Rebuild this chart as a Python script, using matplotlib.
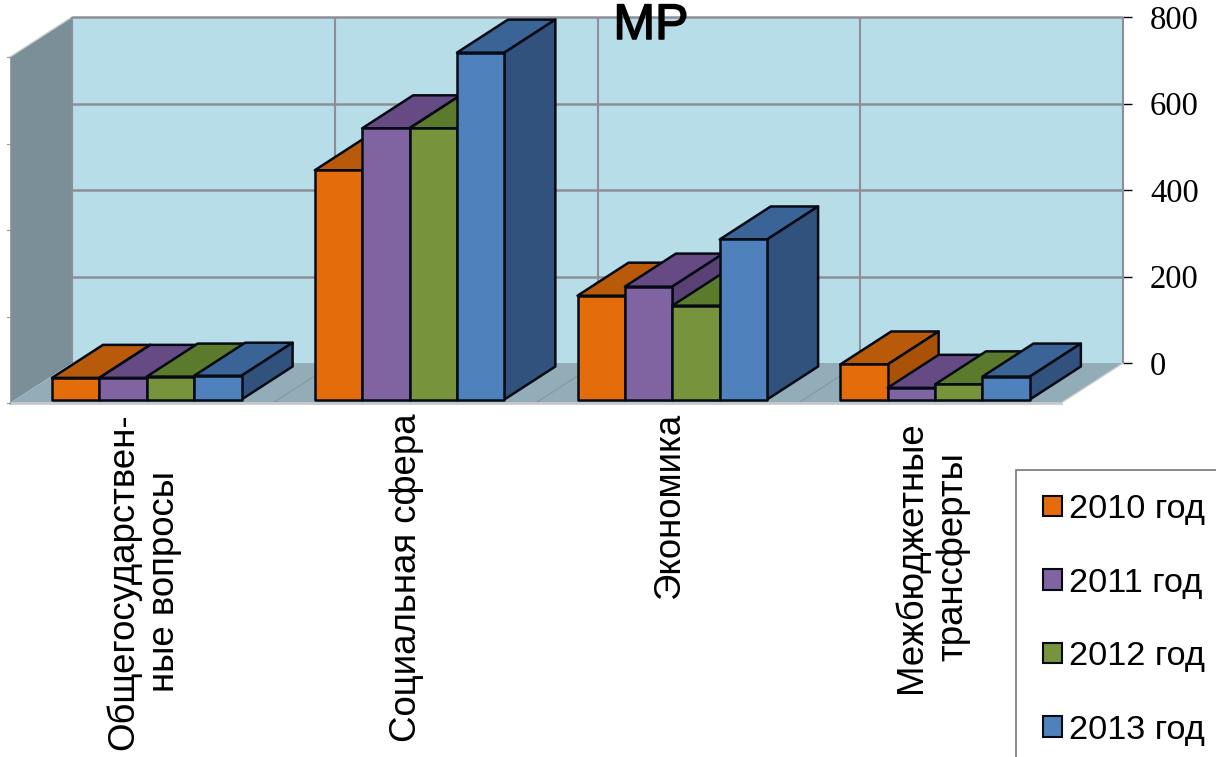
import matplotlib
matplotlib.use("Agg")
import matplotlib.pyplot as plt
import matplotlib.patheffects as pe
import matplotlib.transforms as mtrans
from matplotlib.patches import Polygon, Patch, Rectangle

categories = ["Общегосударствен-\nные вопросы", "Социальная сфера", "Экономика", "Межбюджетные\nтрансферты"]
series_names = ["2010 год", "2011 год", "2012 год", "2013 год"]
v2010 = [50, 530, 240, 81]
v2011 = [50, 627, 261, 27]
v2012 = [53, 627, 217, 35]
v2013 = [55, 802, 370, 53]
yticks = [0, 200, 400, 600, 800]
title = "МР"

series = [v2010, v2011, v2012, v2013]
front_col = ["#e46c0a", "#8064a2", "#77933c", "#4f81bd"]
top_col = ["#b95a0b", "#654a84", "#5c7a2c", "#3b6496"]
side_col = ["#a95207", "#5a4175", "#4f6b24", "#31527c"]

W, H = 1216, 757
fig = plt.figure(figsize=(W / 100, H / 100), dpi=100, facecolor="white")
ax = fig.add_axes([72 / W, 1 - 363 / H, (1123 - 72) / W, (363 - 17) / H])
ax.set_xlim(0, 4)
ax.set_ylim(0, 800)
ax.set_facecolor("#b7dde8")
ax.set_axisbelow(True)
for s in ax.spines.values():
    s.set_visible(False)

GRID = "#8e8f96"
px_x = 4 / (1123 - 72)   # data units per pixel, x
px_y = 800 / (363 - 17)  # data units per pixel, y

# floor and left wall (oblique projection)
fx, fy = -62 * px_x, -40 * px_y
ax.add_patch(Polygon([(fx, 800 + fy), (0, 800), (0, 0), (fx, fy)], fc="#7a8f97", ec="none", clip_on=False, zorder=1))
ax.add_patch(Polygon([(fx, fy), (0, 0), (4, 0), (4 + fx, fy)], fc="#93adb8", ec="none", clip_on=False, zorder=1))
for i in range(1, 4):
    ax.plot([i + fx, i], [fy, 0], color="#7f98a3", lw=0.8, clip_on=False, zorder=1.5)
ax.plot([fx, 4 + fx], [fy, fy], color="#c6c9cc", lw=2, clip_on=False, zorder=1.5)
ax.plot([4 + fx, 4], [fy, 0], color="#c6c9cc", lw=1, clip_on=False, zorder=1.5)
ax.plot([fx, 0], [800 + fy, 800], color="#c9cdd0", lw=1, clip_on=False, zorder=1.5)
ax.plot([fx, fx], [fy, 800 + fy], color="#9aa5aa", lw=0.8, clip_on=False, zorder=1.5)
for t in yticks:
    ax.plot([fx - 3 * px_x, fx], [t + fy, t + fy], color="#9a9a9a", lw=0.8, clip_on=False, zorder=1.5)

# walls grid
for t in yticks[1:]:
    ax.plot([0, 4], [t, t], color=GRID, lw=1.8, clip_on=False, zorder=2, solid_capstyle="butt")
for i in range(0, 5):
    ax.plot([i, i], [0, 800], color=GRID, lw=1.5, clip_on=False, zorder=2, solid_capstyle="butt")

# bars
base = -36.5 * px_y
bw = 47.4 * px_x
dx, dy = 51 * px_x, 33 * px_y
start = fx + 42 * px_x
z = 3
for c in range(len(categories)):
    for s, vals in enumerate(series):
        x0 = c + start + s * bw
        x1 = x0 + bw
        top = base + vals[c]
        kw = dict(ec="#050a14", lw=1.8, joinstyle="round", clip_on=False, zorder=z)
        ax.add_patch(Polygon([(x0, top), (x1, top), (x1 + dx, top + dy), (x0 + dx, top + dy)], fc=top_col[s], **kw))
        ax.add_patch(Polygon([(x1, base), (x1 + dx, base + dy), (x1 + dx, top + dy), (x1, top)], fc=side_col[s], **kw))
        ax.add_patch(Polygon([(x0, base), (x1, base), (x1, top), (x0, top)], fc=front_col[s], **kw))
        z += 0.01

# axes ticks
ax.yaxis.tick_right()
ax.set_yticks(yticks)
ax.set_yticklabels([str(t) for t in yticks], family="Liberation Serif", fontsize=23.5)
ax.tick_params(axis="y", length=6.5, width=1, color="black", pad=13, zorder=2)
ax.set_xticks([c + start + 2 * bw - 3 * px_x for c in range(4)])
ax.set_xticklabels(categories, rotation=90, family="Liberation Sans", fontsize=26.4,
                   ha="center", va="top", multialignment="center", linespacing=1.24)
ax.tick_params(axis="x", length=0, pad=36)
# the last label sits slightly lower in the reference
last = ax.get_xticklabels()[-1]
last.set_transform(last.get_transform() + mtrans.ScaledTranslation(0, -8 / 100, fig.dpi_scale_trans))

# title
fig.text(651 / W, 1 - 26 / H, title, family="Liberation Sans", fontsize=36, color="black",
         ha="center", va="center", zorder=20,
         path_effects=[pe.withStroke(linewidth=1.1, foreground="black")])

# legend
fig.add_artist(Rectangle((1016 / W, 1 - 900 / H), 400 / W, 430 / H, transform=fig.transFigure,
                         fc="white", ec="#777777", lw=1.2, zorder=10))
handles = [Patch(fc=front_col[i], ec="#050a14", lw=1.5, label=series_names[i]) for i in range(4)]
leg = fig.legend(handles=handles, loc="upper left", bbox_to_anchor=(1043 / W, 1 - 494 / H), frameon=False,
                 prop={"family": "Liberation Sans", "size": 24.7}, handlelength=0.55, handleheight=0.55,
                 handletextpad=0.2, labelspacing=1.24, borderaxespad=0, borderpad=0)
leg.set_zorder(11)

fig.savefig("out.png", dpi=100, facecolor="white")
